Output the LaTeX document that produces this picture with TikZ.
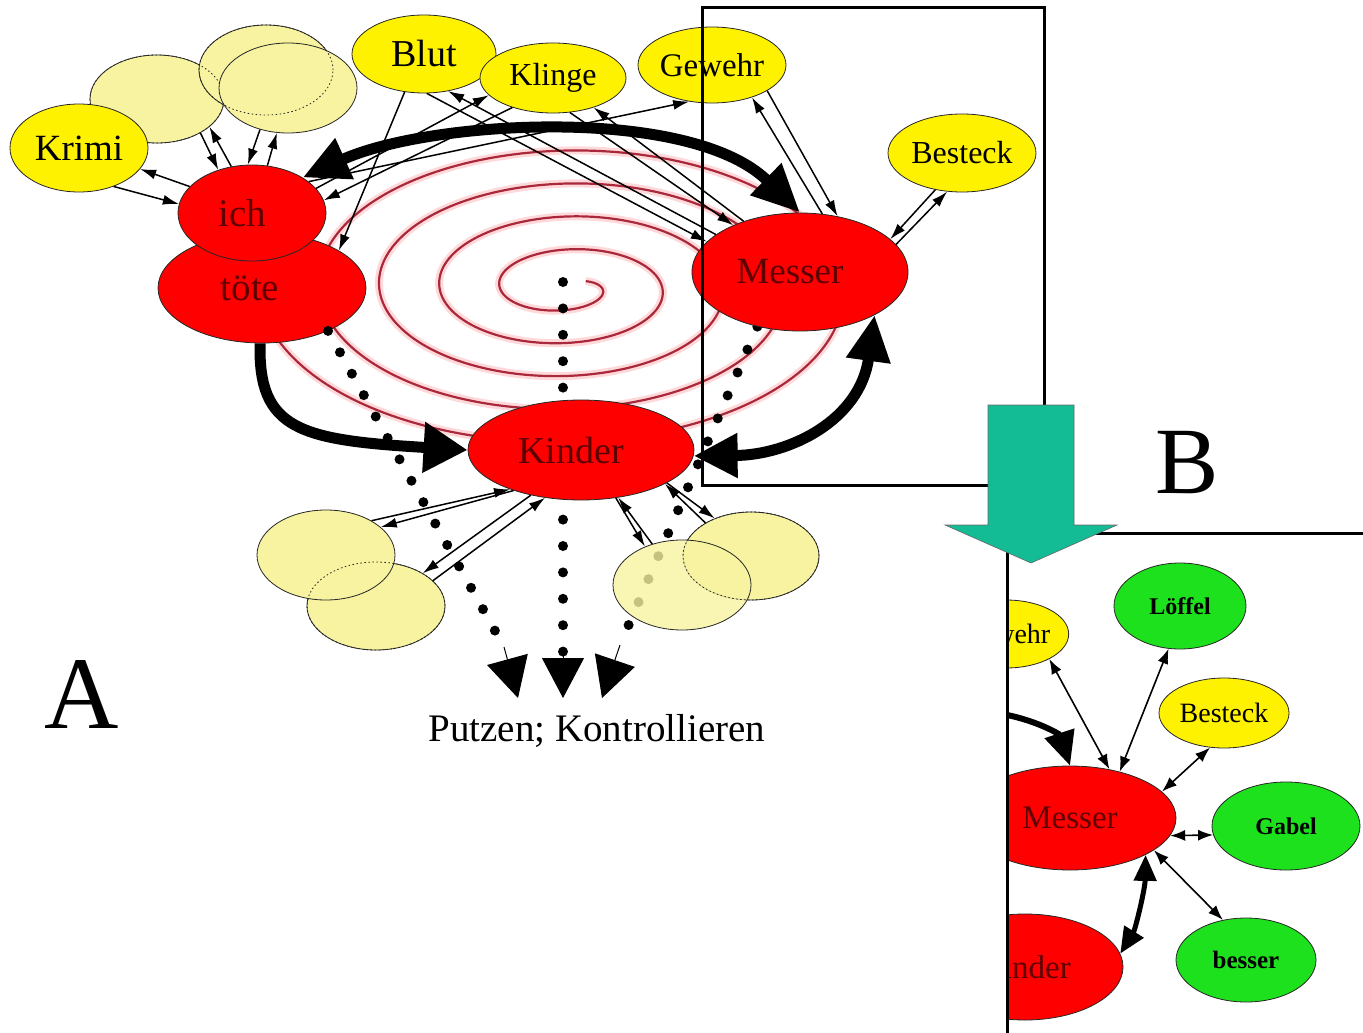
\documentclass[tikz,border=0pt]{standalone}
\usepackage{fontspec}
\setmainfont{Liberation Serif}
\usepackage{tikz}
\usetikzlibrary{shapes.geometric,arrows.meta,backgrounds}
\definecolor{paleyellow}{RGB}{247,243,160}
\definecolor{vertexred}{RGB}{255,0,0}
\definecolor{vertexgreen}{RGB}{30,225,30}
\definecolor{labelred}{RGB}{95,0,0}
\definecolor{arrowteal}{RGB}{20,188,150}
\definecolor{spiralred}{RGB}{170,40,60}
\newcommand{\fsz}[1]{\fontsize{#1}{#1}\selectfont}

\begin{document}
\begin{tikzpicture}[x=1pt,y=-1pt]
            \tikzstyle{vertex}=[ellipse,draw=black!85,line width=0.8pt,inner sep=0pt]
            \tikzstyle{yvertex}=[vertex,fill=yellow]
            \tikzstyle{pvertex}=[vertex,fill=paleyellow]
            \tikzstyle{rvertex}=[vertex,fill=vertexred,text=labelred]
            \tikzstyle{gvertex}=[vertex,fill=vertexgreen,font=\bfseries\fsz{24}]
            \tikzstyle{hiddenline}=[ellipse,draw=black!85,line width=0.8pt,dash pattern=on 1.5pt off 2.5pt,inner sep=0pt]
            \tikzstyle{link}=[line width=1.5pt,-{Latex[length=16pt,width=10pt]}]
            \tikzstyle{heavy}=[line width=11pt]
            \tikzstyle{dotline}=[line width=10pt,line cap=round,dash pattern=on 0pt off 25pt]
            \tikzstyle{bigtip}=[line width=1pt,-{Triangle[length=40pt,width=42pt]}]

            \useasboundingbox (0,0) rectangle (1363,1033);

                    % top left group
                    \node[pvertex,minimum width=134pt,minimum height=88pt] (V-p1) at (157,99){};
                    \node[pvertex,minimum width=134pt,minimum height=90pt] (V-p2) at (266,70){};
                    \node[hiddenline,minimum width=134pt,minimum height=88pt] (H-p1) at (V-p1){};
                    \node[pvertex,minimum width=138pt,minimum height=90pt] (V-p3) at (288,88){};
                    \node[hiddenline,minimum width=134pt,minimum height=90pt] (H-p2) at (V-p2){};
                    \node[yvertex,font=\fsz{37},minimum width=138pt,minimum height=88pt] (V-krimi) at (79,148){Krimi};

                    \node[yvertex,font=\fsz{38},minimum width=144pt,minimum height=78pt] (V-blut) at (424,54){Blut};
                    \node[yvertex,font=\fsz{32},minimum width=146pt,minimum height=70pt] (V-klinge) at (553,78){Klinge};
                    \node[yvertex,font=\fsz{33},minimum width=148pt,minimum height=76pt] (V-gewehr) at (712,65){Gewehr};
                    \node[yvertex,font=\fsz{32},minimum width=148pt,minimum height=78pt] (V-besteck) at (962,153){Besteck};

                    \node[rvertex,font=\fsz{39},minimum width=208pt,minimum height=110pt] (V-toete) at (262,288){\hspace*{-24pt}töte};
                    \node[rvertex,font=\fsz{39},minimum width=148pt,minimum height=96pt] (V-ich) at (252,213){\hspace*{-20pt}ich};
                    \node[rvertex,font=\fsz{37},minimum width=216pt,minimum height=118pt] (V-messer) at (800,272){\hspace*{-20pt}Messer};
                    \node[rvertex,font=\fsz{38},minimum width=226pt,minimum height=100pt] (V-kinder) at (581,450){\hspace*{-20pt}Kinder};

                    % bottom groups
                    \node[pvertex,minimum width=138pt,minimum height=88pt] (V-p5) at (376,606){};
                    \node[pvertex,minimum width=138pt,minimum height=90pt] (V-p4) at (326,555){};
                    \node[hiddenline,minimum width=138pt,minimum height=88pt] (H-p5) at (V-p5){};
                    \node[pvertex,minimum width=136pt,minimum height=88pt] (V-p6) at (751,556){};
                    \node[pvertex,fill opacity=0.8,minimum width=138pt,minimum height=90pt] (V-p7) at (682,585){};
                    \node[hiddenline,minimum width=136pt,minimum height=88pt] (H-p6) at (V-p6){};

            \begin{pgfonlayer}{background}
                \draw[red!15,line width=8pt] plot[domain=-0.8:28.5,samples=700,smooth,variable=\t] ({566+(36+9.6*\t)*cos(\t r)},{288+(13.75+5.25*\t)*sin(\t r)});
                \draw[spiralred,line width=2.2pt] plot[domain=-0.8:28.5,samples=700,smooth,variable=\t] ({566+(36+9.6*\t)*cos(\t r)},{288+(13.75+5.25*\t)*sin(\t r)});
                \coordinate (S-c) at (563,282);
                \coordinate (D-m) at (563,652);
                \coordinate (D-r) at (620,645);
                \draw[dotline,dash pattern=on 0pt off 26.4pt] (S-c) -- (D-m);
                \draw[dotline] (V-messer.-128) -- (D-r);
            \end{pgfonlayer}

                \foreach \from/\to in {krimi.-48/ich.173, ich.157/krimi.-19, p1.-38/ich.128, ich.114/p1.-28, p3.-124/ich.95, ich.72/p3.-104,
                    blut.-117/toete.26, klinge.-144/ich.10, ich.21/klinge.-165, ich.29/gewehr.-122, blut.-86/messer.162, messer.156/blut.-57,
                    klinge.-64/messer.145, messer.138/klinge.-36, messer.69/gewehr.-39, gewehr.-25/messer.56, besteck.-126/messer.20, messer.16/besteck.-111,
                    p4.37/kinder.-151, kinder.-149/p4.27, p5.24/kinder.-127, kinder.-138/p5.35, kinder.-54/p7.134, p7.126/kinder.-52,
                    kinder.-21/p6.134, p6.144/kinder.-22}
                    \draw[link] (V-\from) -- (V-\to);

                \draw[heavy,{Triangle[length=46pt,width=42pt]}-{Triangle[length=48pt,width=42pt]}] (V-ich.35) .. controls (430,120) and (690,105) .. (V-messer.90);
                \draw[heavy,-{Triangle[length=44pt,width=48pt]}] (V-toete.-92) .. controls (258,430) and (300,440) .. (V-kinder.180);
                \draw[heavy,{Triangle[length=44pt,width=42pt]}-{Triangle[length=46pt,width=42pt]}] (V-kinder.-3) .. controls (790,455) and (860,420) .. (V-messer.-30);

                \coordinate (D-l) at (504,647);
                \draw[dotline,dash pattern=on 0pt off 24.5pt] (V-toete.-33) -- (D-l);
                \coordinate (T-l) at (518,698);
                \coordinate (T-m) at (563,698);
                \coordinate (T-r) at (602,698);
                \draw[bigtip] (D-l) -- (T-l);
                \draw[bigtip] (D-m) -- (T-m);
                \draw[bigtip] (D-r) -- (T-r);

                \node[font=\fsz{39}] (T-putzen) at (597,731){Putzen; Kontrollieren};
                \node[font=\fsz{103}] (T-a) at (82,694){A};
                \node[font=\fsz{95}] (T-b) at (1187,463){B};

                \draw[line width=3pt] (702,8) rectangle (1044,485);

            % enlarged part
            \begin{scope}
                \clip (1007,533) rectangle (1363,1033);
                    \node[yvertex,font=\fsz{28},minimum width=122pt,minimum height=68pt] (B-gewehr) at (1006,634){Gewehr};
                    \node[gvertex,minimum width=132pt,minimum height=86pt] (B-loeffel) at (1180,606){Löffel};
                    \node[yvertex,font=\fsz{28},minimum width=130pt,minimum height=70pt] (B-besteck) at (1224,713){Besteck};
                    \node[rvertex,font=\fsz{33},minimum width=212pt,minimum height=104pt] (B-messer) at (1070,818){Messer};
                    \node[gvertex,minimum width=148pt,minimum height=88pt] (B-gabel) at (1286,826){Gabel};
                    \node[rvertex,font=\fsz{33},minimum width=196pt,minimum height=106pt] (B-kinder) at (1025,967){Kinder};
                    \node[gvertex,font=\bfseries\fsz{25},minimum width=140pt,minimum height=84pt] (B-besser) at (1246,960){besser};
                    \coordinate (B-in) at (990,712);
                \draw[line width=6pt,-{Triangle[length=34pt,width=30pt]}] (B-in) .. controls (1035,718) and (1060,735) .. (B-messer.north);
                \foreach \from/\to in {gewehr.-30/messer.51, loeffel.-105/messer.43, besteck.-112/messer.16, gabel.-173/messer.-10, besser.120/messer.-21}
                    \draw[line width=1.6pt,{Latex[length=15pt,width=11pt]}-{Latex[length=15pt,width=11pt]}] (B-\from) -- (B-\to);
                \draw[line width=5pt,{Triangle[length=26pt,width=22pt]}-{Triangle[length=26pt,width=22pt]}] (B-messer.-26) .. controls (1145,890) and (1135,930) .. (B-kinder.8);
            \end{scope}
                \draw[line width=3pt] (1007,1033) -- (1007,533) -- (1363,533);

                \draw[fill=arrowteal,draw=black!60,line width=0.6pt] (988,405) -- (1074,405) -- (1074,525) -- (1117,525) -- (1031,563) -- (945,525) -- (988,525) -- cycle;
        \end{tikzpicture}
\end{document}
